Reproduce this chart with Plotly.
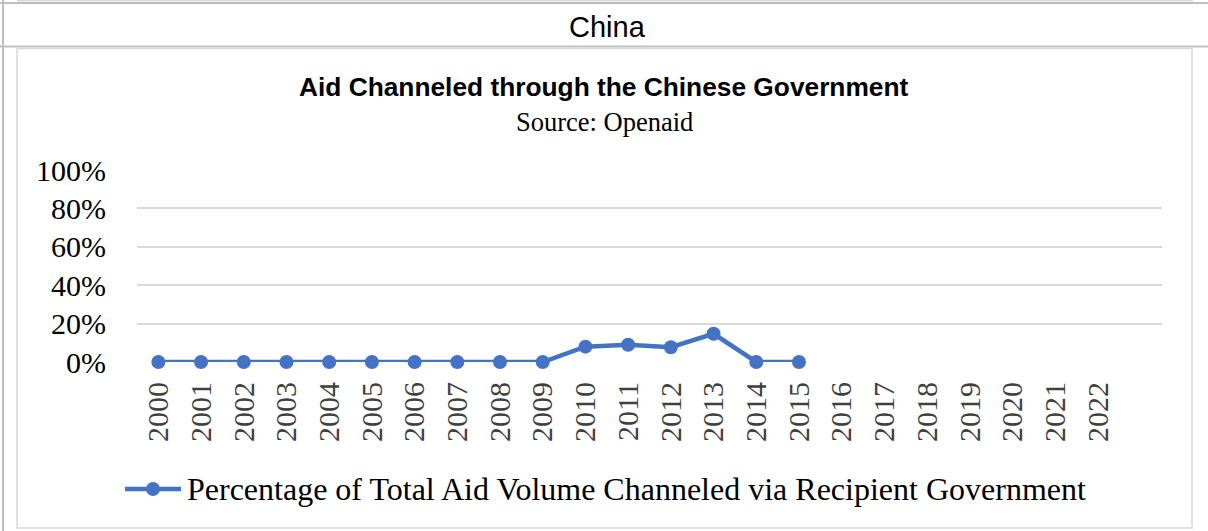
import plotly.graph_objects as go

# Share of aid volume channeled via the recipient government (fraction of total)
years = [2000, 2001, 2002, 2003, 2004, 2005, 2006, 2007,
         2008, 2009, 2010, 2011, 2012, 2013, 2014, 2015]
share = [0.0, 0.0, 0.0, 0.0, 0.0, 0.0, 0.0, 0.0,
         0.0, 0.0, 0.08, 0.09, 0.077, 0.147, 0.0, 0.0]

tick_years = list(range(2000, 2023))
y_ticks = [0, 0.2, 0.4, 0.6, 0.8, 1.0]
y_labels = ["0%", "20%", "40%", "60%", "80%", "100%"]

series_name = "Percentage of Total Aid Volume Channeled via Recipient Government"
header = "China"
title = "Aid Channeled through the Chinese Government"
subtitle = "Source: Openaid"

W, H = 1208, 531
PL, PR, PT, PB = 137, 1162, 170, 362   # plot area in pixels

SERIF = "Liberation Serif, Times New Roman, serif"
SANS = "Liberation Sans, Arial, sans-serif"
BLUE = "#4472C4"
LINE_W = 4.5
MARKER_D = 14


def px(x):
    return (x - PL) / (PR - PL)


def py(y):
    return (PB - y) / (PB - PT)


fig = go.Figure()
fig.add_trace(go.Scatter(
    x=years, y=share, mode="lines+markers", name=series_name,
    line=dict(color=BLUE, width=LINE_W),
    marker=dict(color=BLUE, size=MARKER_D),
    cliponaxis=False, showlegend=False,
))

shapes = []
# table frame around the chart
shapes.append(dict(type="line", xref="paper", yref="paper",
                   x0=px(17), x1=px(1193), y0=py(0.5), y1=py(0.5),
                   line=dict(color="#D9D9D9", width=2)))
shapes.append(dict(type="line", xref="paper", yref="paper",
                   x0=px(0), x1=px(1208), y0=py(3), y1=py(3),
                   line=dict(color="#BFBFBF", width=2)))
shapes.append(dict(type="line", xref="paper", yref="paper",
                   x0=px(0), x1=px(1208), y0=py(46.5), y1=py(46.5),
                   line=dict(color="#BFBFBF", width=2)))
shapes.append(dict(type="line", xref="paper", yref="paper",
                   x0=px(3), x1=px(3), y0=py(0), y1=py(531),
                   line=dict(color="#BFBFBF", width=2)))
shapes.append(dict(type="rect", xref="paper", yref="paper",
                   x0=px(17), x1=px(1192), y0=py(48.5), y1=py(528),
                   line=dict(color="#D9D9D9", width=1.5)))

# legend key: line sample with a marker in the middle
LEG_Y = 489
shapes.append(dict(type="line", xref="paper", yref="paper",
                   x0=px(125), x1=px(181), y0=py(LEG_Y), y1=py(LEG_Y),
                   line=dict(color=BLUE, width=LINE_W)))
r = MARKER_D / 2
shapes.append(dict(type="circle", xref="paper", yref="paper",
                   x0=px(153 - r), x1=px(153 + r), y0=py(LEG_Y - r), y1=py(LEG_Y + r),
                   fillcolor=BLUE, line=dict(color=BLUE, width=0)))
fig.update_layout(shapes=shapes)

annotations = [
    dict(text=header, x=px(607), y=py(27), xref="paper", yref="paper",
         showarrow=False, xanchor="center", yanchor="middle",
         font=dict(family=SANS, size=29, color="#000000")),
    dict(text="<b>" + title + "</b>", x=px(604), y=py(87), xref="paper", yref="paper",
         showarrow=False, xanchor="center", yanchor="middle",
         font=dict(family=SANS, size=26.3, color="#000000")),
    dict(text=subtitle, x=px(604), y=py(122), xref="paper", yref="paper",
         showarrow=False, xanchor="center", yanchor="middle",
         font=dict(family=SERIF, size=26.5, color="#000000")),
    dict(text=series_name, x=px(185), y=py(LEG_Y), xref="paper", yref="paper",
         showarrow=False, xanchor="left", yanchor="middle",
         font=dict(family=SERIF, size=32, color="#000000")),
]
fig.update_layout(annotations=annotations)

fig.update_layout(
    width=W, height=H,
    margin=dict(l=PL, r=W - PR, t=PT, b=H - PB, pad=0),
    paper_bgcolor="white", plot_bgcolor="white",
    showlegend=False,
    xaxis=dict(range=[1999.5, 2023.5], tickmode="array", tickvals=tick_years,
               ticktext=[str(y) for y in tick_years], tickangle=-90,
               showgrid=False, zeroline=False, showline=False, ticks="",
               ticklabelstandoff=13,
               tickfont=dict(family=SERIF, size=30, color="#404040")),
    yaxis=dict(range=[0, 1.0], tickmode="array", tickvals=y_ticks, ticktext=y_labels,
               showgrid=True, gridcolor="#D9D9D9", gridwidth=1.5,
               zeroline=False, showline=False, ticks="",
               ticklabelstandoff=30,
               tickfont=dict(family=SERIF, size=30, color="#000000")),
)

fig.write_html("out.html")
